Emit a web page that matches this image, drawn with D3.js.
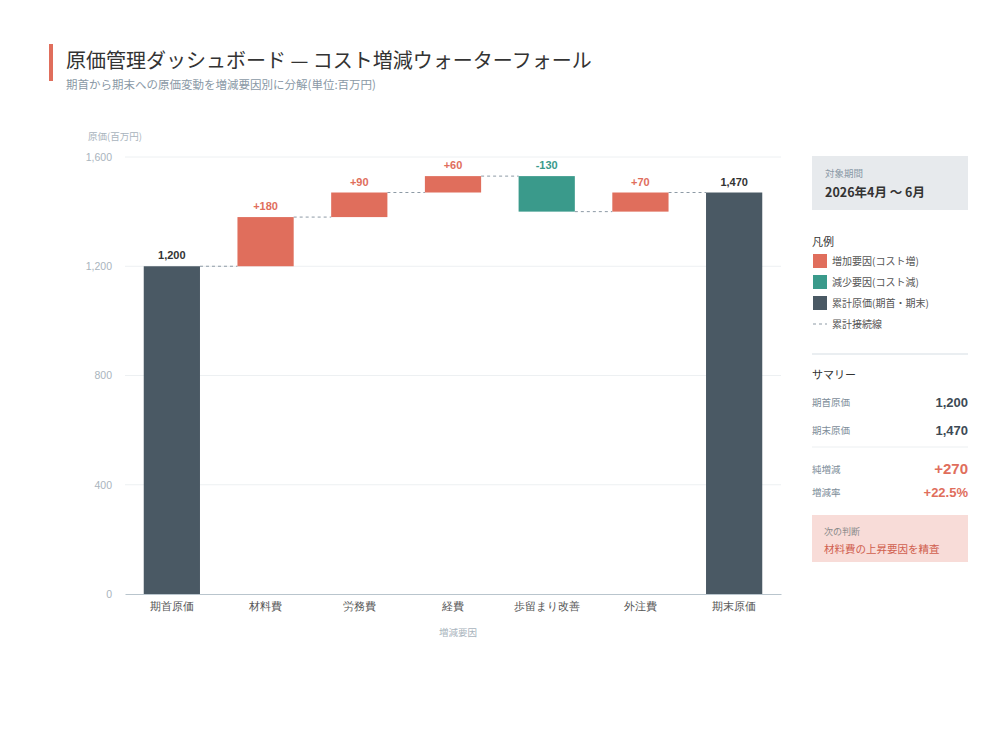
<!DOCTYPE html>
<meta charset="utf-8">
<title>原価管理ダッシュボード</title>
<script src="https://d3js.org/d3.v7.min.js"></script>
<style>
body {
	margin: 0;
	background: #fff;
	font-family: "Noto Sans CJK JP", "Noto Sans", sans-serif;
}
</style>
<body>
<script>
// Data
const categories = ['期首原価', '材料費', '労務費', '経費', '歩留まり改善', '外注費', '期末原価'];
const kinds = ['total', 'delta', 'delta', 'delta', 'delta', 'delta', 'total'];
const values = [1200, 180, 90, 60, -130, 70, 1470];
const yTicks = [0, 400, 800, 1200, 1600];
const legendLabels = ['増加要因(コスト増)', '減少要因(コスト減)', '累計原価(期首・期末)', '累計接続線'];
const summaryRows = [
	['期首原価', '1,200'],
	['期末原価', '1,470'],
	['純増減', '+270'],
	['増減率', '+22.5%'],
];

const colors = { up: '#e06e5c', down: '#3a9a8b', total: '#4a5964' };
const textColor = '#333';
const mutedColor = '#8a99a6';
const gridColor = '#edf0f2';
const numFont = '"Liberation Sans", Arial, sans-serif';
const fmt = d3.format(',');
const fmtSigned = v => (v > 0 ? '+' : '') + fmt(v).replace('\u2212', '-');

const W = 1000, H = 750;
const svg = d3.select('body').append('svg')
	.attr('width', W)
	.attr('height', H)
	.attr('font-family', '"Noto Sans CJK JP", "Noto Sans", sans-serif');

// Title
svg.append('rect').attr('x', 49).attr('y', 44).attr('width', 4).attr('height', 37).attr('fill', colors.up);
svg.append('text').attr('x', 66).attr('y', 68)
	.attr('font-size', 20).attr('fill', textColor)
	.text('原価管理ダッシュボード — コスト増減ウォーターフォール');
svg.append('text').attr('x', 66).attr('y', 89)
	.attr('font-size', 11.5).attr('fill', mutedColor)
	.text('期首から期末への原価変動を増減要因別に分解(単位:百万円)');

// Compute waterfall steps
let running = 0;
const steps = categories.map((c, i) => {
	if (kinds[i] === 'total') {
		running = values[i];
		return { cat: c, kind: 'total', y0: 0, y1: values[i], value: values[i], level: values[i] };
	}
	const start = running;
	running += values[i];
	return { cat: c, kind: values[i] >= 0 ? 'up' : 'down', y0: start, y1: running, value: values[i], level: running };
});

// Scales
const x = d3.scaleBand()
	.domain(categories)
	.range([125, 781])
	.paddingInner(0.4)
	.paddingOuter(0.2);
const y = d3.scaleLinear()
	.domain([0, 1600])
	.range([594, 157]);

// Grid
svg.append('g').selectAll('line')
	.data(yTicks.filter(d => d > 0))
	.join('line')
		.attr('x1', 125).attr('x2', 781)
		.attr('y1', d => y(d)).attr('y2', d => y(d))
		.attr('stroke', gridColor);

// Y axis
const yAxis = svg.append('g')
	.attr('transform', 'translate(125,0)')
	.call(d3.axisLeft(y).tickValues(yTicks).tickFormat(fmt).tickSize(0).tickPadding(13));
yAxis.select('.domain').remove();
yAxis.selectAll('text').attr('font-size', 10.5).attr('fill', '#a9b4bd');
svg.append('text').attr('x', 88).attr('y', 140)
	.attr('font-size', 9.5).attr('fill', '#a9b4bd')
	.text('原価(百万円)');

// Connectors
svg.append('g').selectAll('line')
	.data(steps.slice(0, -1))
	.join('line')
		.attr('x1', d => x(d.cat) + x.bandwidth())
		.attr('x2', (d, i) => x(categories[i + 1]))
		.attr('y1', d => y(d.level))
		.attr('y2', d => y(d.level))
		.attr('stroke', '#8d9aa5')
		.attr('stroke-dasharray', '3,3');

// Bars
svg.append('g').selectAll('rect')
	.data(steps)
	.join('rect')
		.attr('x', d => x(d.cat))
		.attr('width', x.bandwidth())
		.attr('y', d => y(Math.max(d.y0, d.y1)))
		.attr('height', d => Math.abs(y(d.y0) - y(d.y1)))
		.attr('fill', d => colors[d.kind]);

// Value labels
svg.append('g').selectAll('text')
	.data(steps)
	.join('text')
		.attr('x', d => x(d.cat) + x.bandwidth() / 2)
		.attr('y', d => y(Math.max(d.y0, d.y1)) - 7)
		.attr('text-anchor', 'middle')
		.attr('font-family', numFont)
		.attr('font-size', 11)
		.attr('font-weight', 'bold')
		.attr('fill', d => d.kind === 'total' ? textColor : colors[d.kind])
		.text(d => d.kind === 'total' ? fmt(d.value) : fmtSigned(d.value));

// X axis
const xAxis = svg.append('g')
	.attr('transform', 'translate(0,594)')
	.call(d3.axisBottom(x).tickSize(0).tickPadding(9).tickSizeOuter(0));
xAxis.select('.domain').attr('stroke', '#b9c5cd').attr('stroke-width', 1.2);
xAxis.selectAll('text').attr('font-size', 10.5).attr('fill', '#555');
svg.append('text').attr('x', 458).attr('y', 636)
	.attr('text-anchor', 'middle')
	.attr('font-size', 9.5).attr('fill', '#a9b4bd')
	.text('増減要因');

// Side panel
const px = 812, pw = 156;
const panel = svg.append('g');
panel.append('rect').attr('x', px).attr('y', 156).attr('width', pw).attr('height', 54).attr('fill', '#e7eaed');
panel.append('text').attr('x', px + 13).attr('y', 177)
	.attr('font-size', 9.5).attr('fill', mutedColor).text('対象期間');
panel.append('text').attr('x', px + 13).attr('y', 197)
	.attr('font-size', 12.5).attr('font-weight', 'bold').attr('fill', textColor).text('2026年4月 〜 6月');

panel.append('text').attr('x', px).attr('y', 246)
	.attr('font-size', 11).attr('fill', textColor).text('凡例');
const legendColors = [colors.up, colors.down, colors.total, null];
const legend = panel.selectAll('.legend')
	.data(legendLabels)
	.join('g')
		.attr('transform', (d, i) => `translate(${px},${254 + i * 21})`);
legend.each(function(d, i) {
	const g = d3.select(this);
	if (legendColors[i]) {
		g.append('rect').attr('x', 1).attr('width', 14).attr('height', 14).attr('fill', legendColors[i]);
	} else {
		g.append('line').attr('x1', 1).attr('x2', 15).attr('y1', 7).attr('y2', 7)
			.attr('stroke', '#8d9aa5').attr('stroke-dasharray', '3,3');
	}
});
legend.append('text')
	.attr('x', 20).attr('y', 11)
	.attr('font-size', 10).attr('fill', '#555')
	.text(d => d);

panel.append('line').attr('x1', px).attr('x2', px + pw).attr('y1', 354).attr('y2', 354)
	.attr('stroke', '#e3e8ec').attr('stroke-width', 1.5);
panel.append('text').attr('x', px).attr('y', 379)
	.attr('font-size', 11).attr('fill', textColor).text('サマリー');

const rowY = [406, 434, 473, 496];
summaryRows.forEach(([label, val], i) => {
	const strong = i >= 2;
	panel.append('text').attr('x', px).attr('y', rowY[i])
		.attr('font-size', 9.5).attr('fill', '#7d8d99').text(label);
	panel.append('text').attr('x', px + pw).attr('y', rowY[i] + 1)
		.attr('text-anchor', 'end')
		.attr('font-family', numFont)
		.attr('font-size', i === 2 ? 15 : 13)
		.attr('font-weight', 'bold')
		.attr('fill', strong ? colors.up : '#3d4a55')
		.text(val);
});
panel.append('line').attr('x1', px).attr('x2', px + pw).attr('y1', 447).attr('y2', 447)
	.attr('stroke', '#eceff1');

panel.append('rect').attr('x', px).attr('y', 515).attr('width', pw).attr('height', 47).attr('fill', '#f8dcd8');
panel.append('text').attr('x', px + 12).attr('y', 535)
	.attr('font-size', 9).attr('fill', '#8a8a8a').text('次の判断');
panel.append('text').attr('x', px + 12).attr('y', 553)
	.attr('font-size', 10.5).attr('fill', '#d0604f').text('材料費の上昇要因を精査');
</script>
</body>
